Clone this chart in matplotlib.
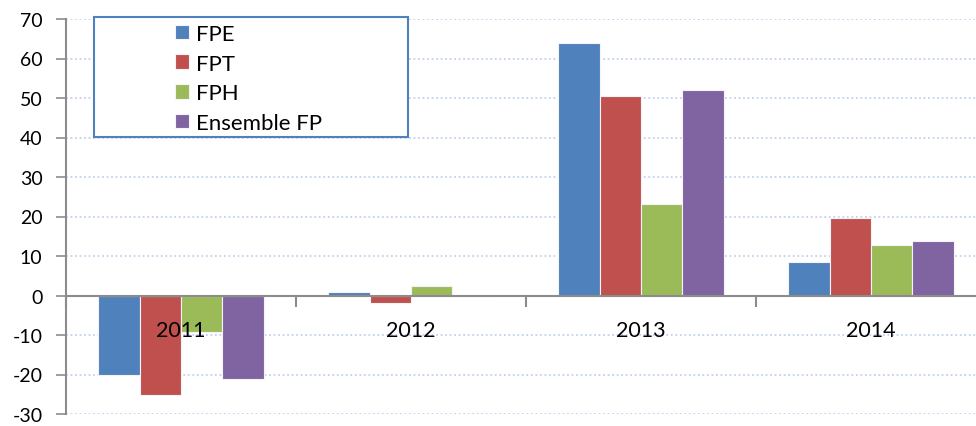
import matplotlib
matplotlib.use("Agg")
import matplotlib.pyplot as plt
import numpy as np
from matplotlib.patches import Rectangle

plt.rcParams['font.family'] = ['Lato', 'DejaVu Sans']

years = ["2011", "2012", "2013", "2014"]
series_names = ["FPE", "FPT", "FPH", "Ensemble FP"]
fpe = [-20.2, 1.0, 63.8, 8.5]
fpt = [-25.1, -1.8, 50.6, 19.6]
fph = [-9.3, 2.5, 23.1, 12.8]
ens = [-21.2, 0.0, 52.1, 13.8]
colors = ["#4F81BD", "#C0504D", "#9BBB59", "#8064A2"]
yticks = [-30, -20, -10, 0, 10, 20, 30, 40, 50, 60, 70]

W, H = 976, 427
fig = plt.figure(figsize=(W / 100, H / 100), dpi=100)
left, right = 66, 986
top, bottom = 20, 415
ax = fig.add_axes([left / W, (H - bottom) / H, (right - left) / W, (bottom - top) / H])
ax.set_axisbelow(True)

x = np.arange(len(years))
bw = 0.18
data = [fpe, fpt, fph, ens]
for i, (vals, c, name) in enumerate(zip(data, colors, series_names)):
    ax.bar(x + (i - 1.5) * bw, vals, width=bw, color=c, edgecolor="#f4f4f8",
           linewidth=0.8, label=name, zorder=2)

ax.set_xlim(-0.5, len(years) - 0.5)
ax.set_ylim(-30, 70)
ax.set_yticks(yticks)
ax.set_yticklabels([str(t) for t in yticks], fontsize=14, color="black")
ax.yaxis.grid(True, linestyle=(0, (1, 1.5)), color="#c2d2ef", linewidth=1.3)
ax.tick_params(axis='y', direction='out', length=7, width=1.2, color="#8c8c8c", pad=10)

for s in ['top', 'right']:
    ax.spines[s].set_visible(False)
ax.spines['left'].set_color("#8c8c8c")
ax.spines['left'].set_linewidth(1.5)
ax.spines['bottom'].set_position(('data', 0))
ax.spines['bottom'].set_color("#8c8c8c")
ax.spines['bottom'].set_linewidth(1.5)
ax.spines['bottom'].set_zorder(4)

ax.set_xticks(np.arange(-0.5, len(years), 1.0))
ax.set_xticklabels([])
ax.tick_params(axis='x', which='major', direction='out', length=8, width=1.5, color="#8c8c8c")

for xi, yr in zip(x, years):
    ax.annotate(yr, (xi, 0), xytext=(0, -25), textcoords='offset points',
                ha='center', va='center', fontsize=15.5, color='black', zorder=10)

# legend box
ax.add_patch(Rectangle((94 / W, (H - 138) / H), (408 - 94) / W, (138 - 18) / H,
                       transform=fig.transFigure, fill=True, facecolor="white",
                       edgecolor="#4F81BD", linewidth=1.5, zorder=5, clip_on=False))
leg = ax.legend(loc='upper left', bbox_to_anchor=(175 / W, (H - 25) / H),
                bbox_transform=fig.transFigure, frameon=False, fontsize=16,
                handlelength=0.63, handleheight=0.63, handletextpad=0.32,
                labelspacing=0.43, borderaxespad=0, borderpad=0)
leg.set_zorder(6)

fig.savefig("out.png", dpi=100)
